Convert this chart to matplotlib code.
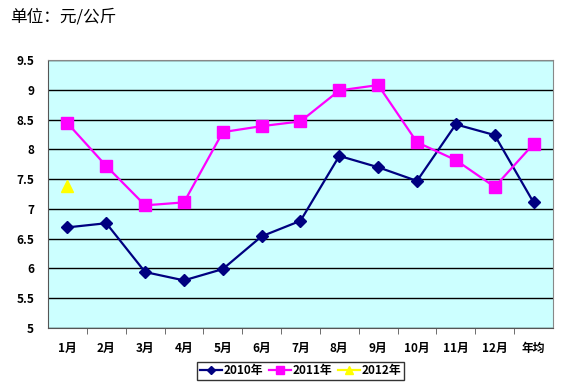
import matplotlib

matplotlib.use("Agg")
import matplotlib.pyplot as plt

plt.rcParams["font.family"] = ["Noto Sans CJK SC", "DejaVu Sans"]

categories = ["1月", "2月", "3月", "4月", "5月", "6月", "7月", "8月", "9月", "10月", "11月", "12月", "年均"]
y2010 = [6.69, 6.76, 5.94, 5.80, 5.99, 6.54, 6.80, 7.89, 7.70, 7.47, 8.42, 8.24, 7.11]
y2011 = [8.44, 7.72, 7.06, 7.11, 8.29, 8.39, 8.47, 8.99, 9.08, 8.12, 7.82, 7.37, 8.09]
y2012 = [7.38]
yticks = [5, 5.5, 6, 6.5, 7, 7.5, 8, 8.5, 9, 9.5]
ytick_labels = ["5", "5.5", "6", "6.5", "7", "7.5", "8", "8.5", "9", "9.5"]

fig = plt.figure(figsize=(5.61, 3.85), dpi=100)
ax = fig.add_axes([0.0856, 0.148, 0.9, 0.696])
ax.set_facecolor("#CCFFFF")

x = list(range(len(categories)))
ax.plot(x, y2010, color="#000080", lw=1.6, marker="D", ms=6, label="2010年", zorder=3)
ax.plot(x, y2011, color="#FF00FF", lw=1.6, marker="s", ms=9, label="2011年", zorder=3)
ax.plot(x[:len(y2012)], y2012, color="#FFFF00", lw=1.6, marker="^", ms=9, label="2012年", zorder=3)

ax.set_xlim(-0.5, len(categories) - 0.5)
ax.set_ylim(5, 9.5)
ax.set_yticks(yticks)
ax.set_yticklabels(ytick_labels, fontsize=8.5, fontweight="bold")
ax.tick_params(axis="y", length=0, pad=10)
ax.set_xticks(x)
ax.set_xticklabels(categories, fontsize=8.5, fontweight="bold")
ax.set_xticks([i + 0.5 for i in range(len(categories) - 1)], minor=True)
ax.tick_params(axis="x", which="major", length=0, pad=10)
ax.tick_params(axis="x", which="minor", length=4, direction="out", color="#555555")
ax.yaxis.grid(True, color="black", lw=1)
ax.set_axisbelow(True)
for side in ("left", "bottom"):
    ax.spines[side].set_color("#555555")
for side in ("top", "right"):
    ax.spines[side].set_color("#888888")

leg = ax.legend(loc="upper center", bbox_to_anchor=(0.5, -0.105), ncol=3,
                prop={"weight": "bold", "size": 8.5}, frameon=True, fancybox=False,
                handlelength=1.9, handletextpad=0.1, columnspacing=0.5, borderpad=0.2,
                markerscale=0.7)
leg.get_frame().set_edgecolor("black")
leg.get_frame().set_linewidth(1)

fig.text(0.018, 0.955, "单位：元/公斤", fontsize=12, va="center", ha="left")

fig.savefig("out.png", dpi=100)
